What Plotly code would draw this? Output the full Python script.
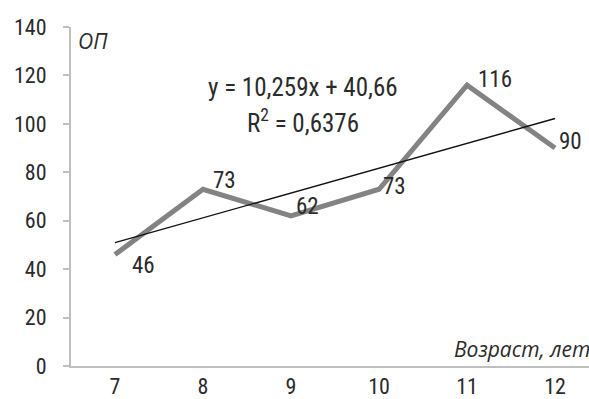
import plotly.graph_objects as go

ages = [7, 8, 9, 10, 11, 12]
op_values = [46, 73, 62, 73, 116, 90]
trend_slope = 10.259
trend_intercept = 40.66
equation_text = "y = 10,259x + 40,66"
r2_text = "R<sup>2</sup> = 0,6376"
y_ticks = [0, 20, 40, 60, 80, 100, 120, 140]

# label offsets (px) relative to each point: (dx from left edge, dy of center, + is up)
label_offsets = [(15, -11), (8, 9), (3, 9), (2, 3), (9, 6), (2, 7)]

FONT = "Roboto Condensed"
TFONT = "Open Sans"
TXT = "#2b2b2b"

trend_x = [ages[0], ages[-1]]
trend_y = [trend_slope * (a - ages[0] + 1) + trend_intercept for a in trend_x]

fig = go.Figure()
fig.add_trace(go.Scatter(x=ages, y=op_values, mode="lines",
                         line=dict(color="#838383", width=5), hoverinfo="skip"))
fig.add_trace(go.Scatter(x=trend_x, y=trend_y, mode="lines",
                         line=dict(color="#111111", width=1.3), hoverinfo="skip"))

annotations = []
for a, v, (dx, dy) in zip(ages, op_values, label_offsets):
    annotations.append(dict(x=a, y=v, xref="x", yref="y", text=str(v), showarrow=False,
                            xanchor="left", yanchor="middle", xshift=dx, yshift=dy,
                            font=dict(family=FONT, size=23, color=TXT)))
annotations.append(dict(x=303, y=399 - 88, xref="paper", yref="paper", text=equation_text,
                        showarrow=False, xanchor="center",
                        font=dict(family=FONT, size=25, color=TXT)))
annotations.append(dict(x=303, y=399 - 122, xref="paper", yref="paper", text=r2_text,
                        showarrow=False, xanchor="center",
                        font=dict(family=FONT, size=25, color=TXT)))
annotations.append(dict(x=76, y=399 - 41, xref="paper", yref="paper", text="<i>ОП</i>",
                        showarrow=False, xanchor="left",
                        font=dict(family=TFONT, size=21, color=TXT)))
annotations.append(dict(x=592, y=399 - 352, xref="paper", yref="paper", text="<i>Возраст, лет</i>",
                        showarrow=False, xanchor="right",
                        font=dict(family=TFONT, size=21, color=TXT)))

# convert pixel-positioned paper annotations to paper coords
L, R, T, B = 71, 0, 27, 30
W, H = 589, 399
pw, ph = W - L - R, H - T - B
for an in annotations:
    if an["xref"] == "paper":
        an["x"] = (an["x"] - L) / pw
        an["y"] = (an["y"] - B) / ph
        an["yanchor"] = "middle"

fig.update_layout(
    width=W, height=H,
    margin=dict(l=L, r=R, t=T, b=B),
    paper_bgcolor="white", plot_bgcolor="white",
    showlegend=False,
    annotations=annotations,
    xaxis=dict(range=[6.5, 12.386], tickvals=ages, ticktext=[str(a) for a in ages],
               showgrid=False, zeroline=False, showline=True, linecolor="#bfbfbf",
               linewidth=2, ticks="", tickfont=dict(family=FONT, size=22, color=TXT),
               fixedrange=True),
    yaxis=dict(range=[0, 140], tickvals=y_ticks, showgrid=False, zeroline=False,
               showline=True, linecolor="#bfbfbf", linewidth=2, ticks="outside",
               ticklen=6, tickcolor="#bfbfbf", tickwidth=1.5, ticklabelstandoff=12,
               tickfont=dict(family=FONT, size=22, color=TXT), fixedrange=True),
)

fig.write_html("out.html")
